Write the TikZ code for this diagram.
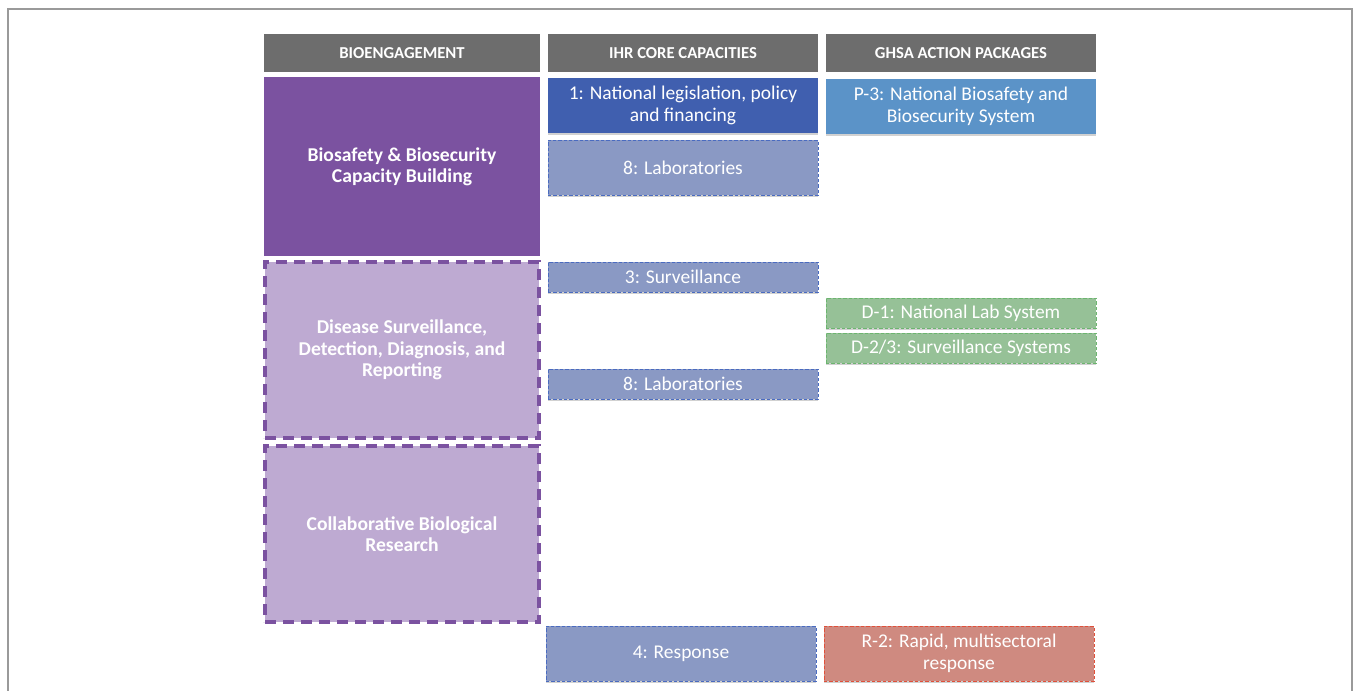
\documentclass[tikz,border=0pt]{standalone}
\usepackage{fontspec}
\setmainfont{Carlito}
\usetikzlibrary{shadows}
\def\u{0.75pt}
\begin{document}
\begin{tikzpicture}[x=0.75pt,y=-0.75pt,
  shd/.style={drop shadow={shadow xshift=0pt,shadow yshift=-1.2pt,opacity=0.18,fill=black}},
  hdr/.style={fill=hdrgray,text=white,font=\fontsize{12.5}{14}\selectfont\bfseries,inner sep=0pt},
  engsolid/.style={fill=purpdark,text=white,font=\fontsize{14.7}{16}\selectfont\bfseries,align=center,inner sep=0pt},
  engdash/.style={fill=purplight,draw=purpdark,line width=2.4pt,dash pattern=on 8pt off 5.5pt,text=white,font=\fontsize{14.7}{16}\selectfont\bfseries,align=center,inner sep=0pt},
  capbox/.style={shd,text=white,font=\fontsize{14.6}{16.5}\selectfont,align=center,inner sep=0pt},
  labdash/.style={capbox,fill=labfill,draw=labline,line width=0.6pt,dash pattern=on 2.5pt off 1.5pt},
  grdash/.style={capbox,fill=grfill,draw=grline,line width=0.6pt,dash pattern=on 2.5pt off 1.5pt},
  reddash/.style={capbox,fill=redfill,draw=redline,line width=0.6pt,dash pattern=on 2.5pt off 1.5pt}
]
\definecolor{hdrgray}{HTML}{6D6D6D}
\definecolor{purpdark}{HTML}{7B52A0}
\definecolor{purplight}{HTML}{BEAAD2}
\definecolor{natblue}{HTML}{405FAF}
\definecolor{p3blue}{HTML}{5B93C8}
\definecolor{labfill}{HTML}{8A99C4}
\definecolor{labline}{HTML}{4A6BC0}
\definecolor{grfill}{HTML}{96C197}
\definecolor{grline}{HTML}{6CB56F}
\definecolor{redfill}{HTML}{CF8A80}
\definecolor{redline}{HTML}{E0503A}
\definecolor{framegray}{HTML}{9A9A9A}
\useasboundingbox (0,0) rectangle (1356,690);
\draw[framegray,line width=1.2pt] (8,700) -- (8,9) -- (1352,9) -- (1352,700);
% headers
\node[hdr,minimum width=276*\u,minimum height=38*\u] (h1) at (402,53) {BIOENGAGEMENT};
\node[hdr,minimum width=270*\u,minimum height=38*\u] (h2) at (683,53) {IHR CORE CAPACITIES};
\node[hdr,minimum width=270*\u,minimum height=38*\u] (h3) at (961,53) {GHSA ACTION PACKAGES};
% bioengagement column
\node[engsolid,minimum width=276*\u,minimum height=179*\u] (b1) at (402,166.5) {Biosafety \& Biosecurity\\Capacity Building};
\node[engdash,minimum width=274*\u,minimum height=176*\u] (b2) at (402,350) {Disease Surveillance,\\Detection, Diagnosis, and\\Reporting};
\node[engdash,minimum width=274*\u,minimum height=176*\u] (b3) at (402,534) {Collaborative Biological\\Research};
% IHR column
\node[capbox,fill=natblue,minimum width=270*\u,minimum height=55*\u] (c1) at (683,105.5) {1: National legislation, policy\\and financing};
\node[labdash,minimum width=270*\u,minimum height=55*\u] (c8a) at (683,167.5) {8: Laboratories};
\node[labdash,minimum width=270*\u,minimum height=30*\u] (c3) at (683,277) {3: Surveillance};
\node[labdash,minimum width=270*\u,minimum height=30*\u] (c8b) at (683,384) {8: Laboratories};
\node[labdash,minimum width=270*\u,minimum height=55*\u] (c4) at (681,653.5) {4: Response};
% GHSA column
\node[capbox,fill=p3blue,minimum width=270*\u,minimum height=55*\u] (p3) at (961,106.5) {P-3: National Biosafety and\\Biosecurity System};
\node[grdash,minimum width=270*\u,minimum height=30*\u] (d1) at (961,313) {D-1: National Lab System};
\node[grdash,minimum width=270*\u,minimum height=30*\u] (d23) at (961,348) {D-2/3: Surveillance Systems};
\node[reddash,minimum width=270*\u,minimum height=55*\u] (r2) at (959,653.5) {R-2: Rapid, multisectoral\\response};
\end{tikzpicture}
\end{document}
